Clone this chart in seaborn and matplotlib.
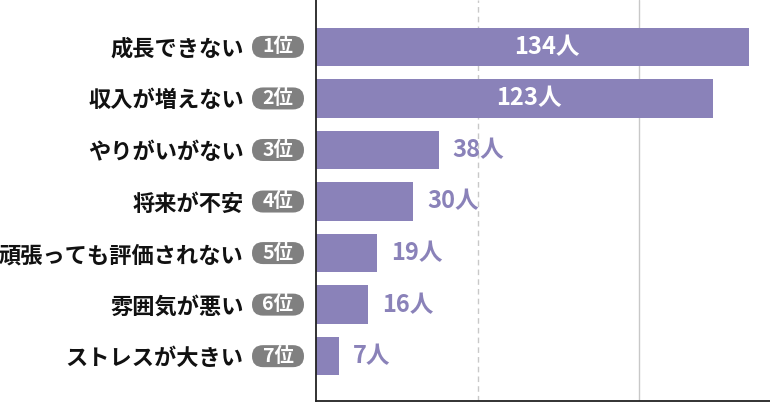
import matplotlib
matplotlib.use("Agg")
import matplotlib.pyplot as plt
import seaborn as sns
import pandas as pd
from matplotlib.patches import FancyBboxPatch
from matplotlib.transforms import offset_copy

categories = ["成長できない", "収入が増えない", "やりがいがない", "将来が不安",
              "頑張っても評価されない", "雰囲気が悪い", "ストレスが大きい"]
ranks = ["1位", "2位", "3位", "4位", "5位", "6位", "7位"]
values = [134, 123, 38, 30, 19, 16, 7]

df = pd.DataFrame({"cat": categories, "val": values})

sns.set_style("white")
plt.rcParams["font.family"] = ["Noto Sans CJK JP", "DejaVu Sans"]

BAR = "#8A82B9"
fig = plt.figure(figsize=(7.7, 4.03), dpi=100)
ax = fig.add_axes([316 / 770, 2 / 403, (770 - 316) / 770, 401 / 403])

sns.barplot(data=df, x="val", y="cat", orient="h", color=BAR, saturation=1,
            width=0.75, ax=ax, edgecolor="none")

ax.set_xlim(0, 140.5)
ax.set_ylim(6.87, -0.91)
ax.set_xlabel("")
ax.set_ylabel("")
ax.set_xticks([])
ax.axvline(50, color="#c8c8c8", lw=1, ls=(0, (4, 3)), zorder=0)
ax.axvline(100, color="#c8c8c8", lw=1, zorder=0)

for s in ["top", "right"]:
    ax.spines[s].set_visible(False)
for s in ["left", "bottom"]:
    ax.spines[s].set_color("#222222")
    ax.spines[s].set_linewidth(1.3)

ax.set_yticks(range(len(categories)))
ax.set_yticklabels(categories, fontsize=16, fontweight="bold", color="#111111")
ax.tick_params(axis="y", length=0, pad=52)

# rank badges (pixel-sized pills)
for i, r in enumerate(ranks):
    _, yc = ax.transData.transform((0, i))
    pill = FancyBboxPatch((252, yc - 11), 52, 22,
                          boxstyle="round,pad=0,rounding_size=11",
                          fc="#808080", ec="none", transform=None)
    fig.add_artist(pill)
    fig.text(278 / 770, yc / 403, r, ha="center", va="center",
             fontsize=14, fontweight="bold", color="white")

# value labels
for i, v in enumerate(values):
    lbl = f"{v}人"
    if v > 100:
        ax.text(v / 2 + 4.5, i, lbl, ha="center", va="center", fontsize=17,
                fontweight="bold", color="white")
    else:
        t = offset_copy(ax.transData, fig=fig, x=14, y=0, units="dots")
        ax.text(v, i, lbl, transform=t, ha="left", va="center", fontsize=17,
                fontweight="bold", color=BAR)

fig.savefig("out.png", dpi=100)
